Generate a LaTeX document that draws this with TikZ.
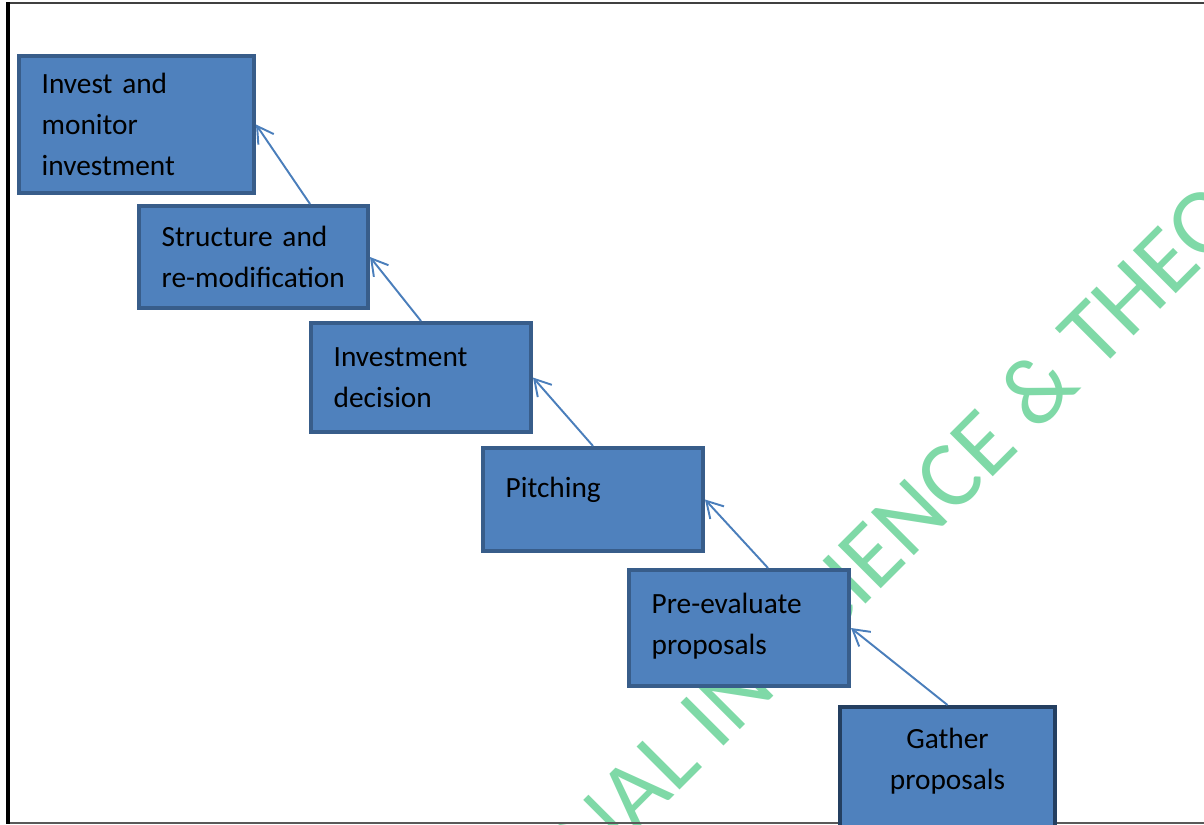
\documentclass[tikz,border=0pt]{standalone}
\usepackage{fontspec}
\setmainfont{Carlito}
\usetikzlibrary{arrows.meta,calc,positioning}
\definecolor{boxblue}{RGB}{79,129,189}
\definecolor{boxline}{RGB}{56,93,138}
\definecolor{boxdark}{RGB}{36,63,96}
\definecolor{arrowblue}{RGB}{74,126,187}
\definecolor{markgreen}{RGB}{127,217,167}
\tikzset{
  stepbox/.style={draw=boxline, fill=boxblue, line width=3pt, inner xsep=17pt, inner ysep=0pt,
    align=left, font=\fontsize{22}{31}\selectfont},
  steparrow/.style={draw=arrowblue, line width=1.45pt, -{Straight Barb[length=12pt,width=14pt]}},
}
\begin{document}
\begin{tikzpicture}[x=0.75pt, y=-0.75pt]
  \useasboundingbox (0,0) rectangle (1204,825);
  \clip (0,0) rectangle (1204,825);
  % watermark behind the steps
  \node[rotate=45, anchor=base west, inner sep=0pt, text=markgreen, font=\fontsize{71}{71}\selectfont] (mark) at (593,877) {NAL IN SCIENCE \& THEO};
  % page frame
  \draw[line width=1.6pt, black!75] (1210,3) -- (8,3);
  \draw[line width=1.6pt, black!65] (8,823) -- (1210,823);
  \draw[line width=2.4pt] (8,2) -- (8,824);
  % the steps
  \node[stepbox, minimum width=176.25pt, minimum height=102.75pt, text width=142.25pt] (invest) at (136.5,124.5) {Invest and\\monitor\\investment};
  \node[stepbox, minimum width=171.75pt, minimum height=76.5pt, text width=137.75pt] (struct) at (253.5,257) {Structure and\\\mbox{re-modification}};
  \node[stepbox, minimum width=165pt, minimum height=81.75pt, text width=131pt] (decide) at (421,377.5) {Investment\\decision};
  \node[stepbox, minimum width=165pt, minimum height=77.25pt, text width=131pt] (pitch) at (593,499.5) {Pitching\\[-12pt]\mbox{}};
  \node[stepbox, minimum width=165pt, minimum height=87pt, text width=131pt] (preeval) at (739,628) {\mbox{Pre-evaluate}\\proposals\\[-25pt]\mbox{}};
  \node[stepbox, draw=boxdark, align=center, minimum width=161.25pt, minimum height=105.75pt, text width=127.25pt] (gather) at (947.5,777.5) {Gather\\proposals\\[-3pt]\mbox{}};
  % arrows up the steps
  \draw[steparrow] (gather.north) -- (preeval.east);
  \draw[steparrow] ([xshift=21.75pt]preeval.north) -- (pitch.east);
  \draw[steparrow] (pitch.north) -- (decide.east);
  \draw[steparrow] (decide.north) -- (struct.east);
  \draw[steparrow] ([xshift=42.4pt]struct.north) -- (invest.east);
\end{tikzpicture}
\end{document}
